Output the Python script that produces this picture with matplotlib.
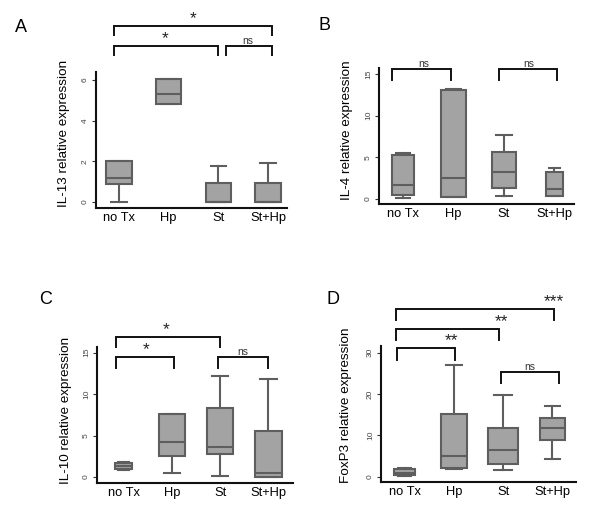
import matplotlib
matplotlib.use("Agg")
import matplotlib.pyplot as plt

plt.rcParams['font.family'] = ['Liberation Sans', 'DejaVu Sans']

groups = ["no Tx", "Hp", "St", "St+Hp"]

# Panel A: IL-13
il13_whislo = [0.0, 4.84, 0.0, 0.0]
il13_q1 = [0.9, 4.84, 0.0, 0.0]
il13_med = [1.2, 5.3, 0.0, 0.0]
il13_q3 = [2.0, 6.07, 0.95, 0.95]
il13_whishi = [2.0, 6.07, 1.79, 1.89]

# Panel B: IL-4
il4_whislo = [0.04, 0.2, 0.32, 0.3]
il4_q1 = [0.4, 0.2, 1.32, 0.32]
il4_med = [1.64, 2.45, 3.2, 1.16]
il4_q3 = [5.2, 13.05, 5.6, 3.17]
il4_whishi = [5.5, 13.15, 7.66, 3.7]

# Panel C: IL-10
il10_whislo = [0.8, 0.52, 0.12, 0.0]
il10_q1 = [1.0, 2.53, 2.77, 0.04]
il10_med = [1.3, 4.22, 3.66, 0.52]
il10_q3 = [1.65, 7.56, 8.28, 5.5]
il10_whishi = [1.8, 7.56, 12.18, 11.82]

# Panel D: FoxP3
foxp3_whislo = [0.1, 1.85, 1.6, 4.35]
foxp3_q1 = [0.3, 2.2, 3.15, 8.8]
foxp3_med = [1.0, 5.0, 6.45, 11.7]
foxp3_q3 = [1.9, 15.16, 11.7, 14.2]
foxp3_whishi = [2.0, 27.0, 19.76, 17.0]

ylabels = ["IL-13 relative expression", "IL-4 relative expression",
           "IL-10 relative expression", "FoxP3 relative expression"]
yticks = [[0, 2, 4, 6], [0, 5, 10, 15], [0, 5, 10, 15], [0, 10, 20, 30]]
panel_letters = ["A", "B", "C", "D"]

# significance brackets: (x1, x2, y_top, y_leg, label, text_x)
brackets = [
    [(0.9, 4.08, 8.66, 8.21, "*", 2.49), (0.9, 3.0, 7.67, 7.23, "*", 1.93),
     (3.15, 4.08, 7.67, 7.23, "ns", 3.6)],
    [(0.78, 1.95, 15.6, 14.28, "ns", 1.4), (2.9, 4.05, 15.6, 14.28, "ns", 3.5)],
    [(0.85, 3.0, 16.9, 15.7, "*", 1.89), (0.85, 2.04, 14.44, 13.15, "*", 1.46),
     (2.95, 3.99, 14.44, 13.15, "ns", 3.47)],
    [(0.82, 4.04, 40.5, 37.9, "***", 4.02), (0.82, 2.92, 35.7, 33.1, "**", 2.96),
     (0.84, 2.02, 31.0, 28.3, "**", 1.96), (2.96, 4.14, 25.2, 22.6, "ns", 3.55)],
]

data = [
    (il13_whislo, il13_q1, il13_med, il13_q3, il13_whishi),
    (il4_whislo, il4_q1, il4_med, il4_q3, il4_whishi),
    (il10_whislo, il10_q1, il10_med, il10_q3, il10_whishi),
    (foxp3_whislo, foxp3_q1, foxp3_med, foxp3_q3, foxp3_whishi),
]

W, H = 600, 515
# axes rectangles in pixels: left, right, top, bottom
rects = [(96, 287, 72, 208), (379, 574, 68, 204), (97, 293, 347, 482.7), (381, 576, 346, 481.7)]
xlims = [(0.54, 4.38), (0.52, 4.39), (0.45, 4.51), (0.52, 4.48)]
ylims = [(-0.3, 6.39), (-0.64, 15.73), (-0.69, 15.68), (-1.21, 31.6)]
widths = [[0.52, 0.5, 0.5, 0.52], [0.43, 0.49, 0.49, 0.35],
          [0.35, 0.54, 0.54, 0.55], [0.44, 0.52, 0.61, 0.51]]
ylabel_pos = [(-0.136, 0.55), (-0.133, 0.54), (-0.129, 0.536), (-0.15, 0.56)]
letter_pos = [(21, 27), (324, 26), (46, 299), (333, 299)]

fill = "#a3a3a3"
edge = "#5e5e5e"

fig = plt.figure(figsize=(W / 100, H / 100), dpi=100)

for i in range(4):
    l, r, t, b = rects[i]
    ax = fig.add_axes([l / W, (H - b) / H, (r - l) / W, (b - t) / H])
    wlo, q1, med, q3, whi = data[i]
    stats = []
    for j in range(4):
        stats.append(dict(med=med[j], q1=q1[j], q3=q3[j], whislo=wlo[j], whishi=whi[j], fliers=[]))
    ax.bxp(stats, positions=[1, 2, 3, 4], widths=widths[i], patch_artist=True,
           showfliers=False, capwidths=[w * 0.62 for w in widths[i]],
           boxprops=dict(facecolor=fill, edgecolor=edge, linewidth=1.5),
           medianprops=dict(color=edge, linewidth=1.5),
           whiskerprops=dict(color=edge, linewidth=1.5),
           capprops=dict(color=edge, linewidth=1.5))
    ax.set_xlim(*xlims[i])
    ax.set_ylim(*ylims[i])
    ax.set_xticks([1, 2, 3, 4])
    ax.set_xticklabels(groups, fontsize=9.3)
    ax.tick_params(axis='x', length=0, pad=3)
    ax.set_yticks(yticks[i])
    ax.set_yticklabels([str(v) for v in yticks[i]], fontsize=6, color="#444444",
                       rotation=90, va='center')
    ax.tick_params(axis='y', length=3, width=0.8, pad=2, color="#333333")
    for s in ['top', 'right']:
        ax.spines[s].set_visible(False)
    for s in ['left', 'bottom']:
        ax.spines[s].set_linewidth(1.5)
        ax.spines[s].set_color("#111111")
    ax.set_ylabel(ylabels[i], fontsize=9.7)
    ax.yaxis.set_label_coords(*ylabel_pos[i])
    ax.patch.set_alpha(0)

    for (x1, x2, yt, yl, lab, tx) in brackets[i]:
        ax.plot([x1, x1, x2, x2], [yl, yt, yt, yl], color="#111111", lw=1.4,
                clip_on=False, solid_joinstyle='miter')
        if lab == "ns":
            ax.text(tx, yt, lab, ha='center', va='bottom', fontsize=7.5, color="#333333")
        else:
            ax.text(tx, yt, lab, ha='center', va='bottom', fontsize=12.5, color="#222222")

    lx, ly = letter_pos[i]
    fig.text(lx / W, 1 - ly / H, panel_letters[i], fontsize=13, ha='center', va='center')

fig.savefig("out.png", dpi=100)
